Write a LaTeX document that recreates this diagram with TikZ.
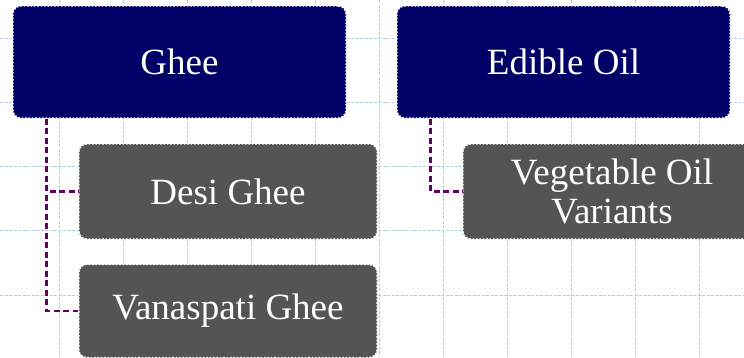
\documentclass[tikz,border=0pt]{standalone}
\usepackage{fontspec}
\setmainfont{Liberation Serif}
\definecolor{navy}{HTML}{000066}
\definecolor{boxgray}{HTML}{545454}
\definecolor{conncol}{HTML}{660066}
\definecolor{gridcol}{HTML}{B4C8F0}
\tikzset{
  topbox/.style={draw=white, line width=1.3pt, dash pattern=on 1.6pt off 1.8pt, rounded corners=8pt, fill=navy, text=white,
    minimum width=333pt, minimum height=112pt, inner sep=0pt, align=center,
    font=\fontsize{37}{39}\selectfont},
  subbox/.style={draw=white, line width=1.3pt, dash pattern=on 1.6pt off 1.8pt, rounded corners=8pt, fill=boxgray, text=white,
    minimum width=298pt, minimum height=95pt, inner sep=0pt, align=center,
    font=\fontsize{37}{39}\selectfont},
  conn/.style={draw=conncol, line width=2.3pt, dash pattern=on 6pt off 3.5pt},
  gridline/.style={draw=gridcol, line width=0.9pt, dash pattern=on 3pt off 1.5pt}
}
\begin{document}
\begin{tikzpicture}[x=1pt,y=-1pt]
\useasboundingbox (0,0) rectangle (744,357);
% grid
\foreach \i in {0,...,10} {
  \draw[gridline] ({59.5+63.95*\i},0) -- ({59.5+63.95*\i},357);
}
\foreach \j in {0,...,4} {
  \draw[gridline] (0,{38+64.25*\j}) -- (744,{38+64.25*\j});
}
% nodes
\node[topbox] (ghee) at (179.5,62) {Ghee};
\node[topbox] (oil) at (563.5,62) {Edible Oil};
\node[subbox] (desi) at (228,191.5) {Desi Ghee};
\node[subbox, minimum height=93pt] (vana) at (228,311) {Vanaspati Ghee};
\node[subbox] (veg) at (612,191.5) {Vegetable Oil\\Variants};
% connectors
\draw[conn] ([xshift=34pt]ghee.south west) |- (desi.west);
\draw[conn] ([xshift=34pt]ghee.south west) |- (vana.west);
\draw[conn] ([xshift=34pt]oil.south west) |- (veg.west);
\end{tikzpicture}
\end{document}
